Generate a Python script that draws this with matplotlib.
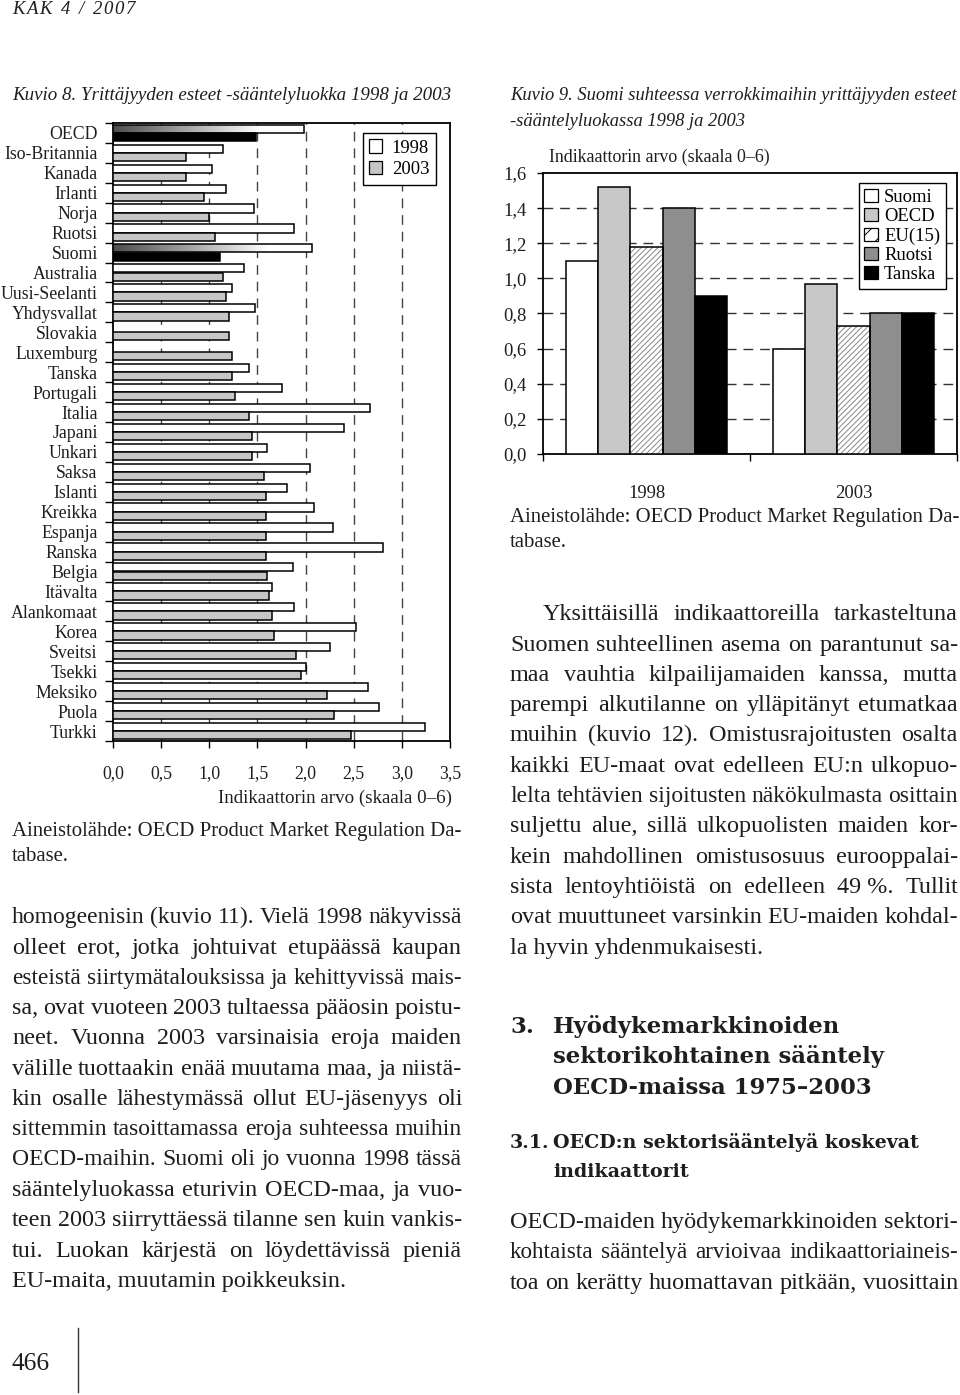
import matplotlib
matplotlib.use('Agg')
import matplotlib.pyplot as plt
import numpy as np
from matplotlib.patches import Patch

# ---------------- data ----------------
countries = ['OECD', 'Iso-Britannia', 'Kanada', 'Irlanti', 'Norja', 'Ruotsi', 'Suomi',
             'Australia', 'Uusi-Seelanti', 'Yhdysvallat', 'Slovakia', 'Luxemburg', 'Tanska',
             'Portugali', 'Italia', 'Japani', 'Unkari', 'Saksa', 'Islanti', 'Kreikka',
             'Espanja', 'Ranska', 'Belgia', 'Itävalta', 'Alankomaat', 'Korea', 'Sveitsi',
             'Tsekki', 'Meksiko', 'Puola', 'Turkki']
v1998 = [1.98, 1.14, 1.03, 1.17, 1.46, 1.875, 2.07, 1.36, 1.24, 1.47, None, None, 1.41,
         1.76, 2.67, 2.40, 1.60, 2.05, 1.81, 2.09, 2.28, 2.80, 1.87, 1.65, 1.885, 2.52,
         2.25, 2.00, 2.65, 2.76, 3.24]
v2003 = [1.48, 0.76, 0.76, 0.95, 1.00, 1.06, 1.11, 1.14, 1.17, 1.20, 1.20, 1.24, 1.24,
         1.27, 1.41, 1.44, 1.44, 1.57, 1.59, 1.59, 1.59, 1.59, 1.60, 1.62, 1.65, 1.67,
         1.90, 1.95, 2.22, 2.30, 2.47]
highlight = ['OECD', 'Suomi']
xticks_left = [0.0, 0.5, 1.0, 1.5, 2.0, 2.5, 3.0, 3.5]

years = ['1998', '2003']
series = ['Suomi', 'OECD', 'EU(15)', 'Ruotsi', 'Tanska']
suomi = [1.10, 0.60]
oecd = [1.52, 0.97]
eu15 = [1.18, 0.73]
ruotsi = [1.40, 0.80]
tanska = [0.90, 0.80]
yticks_right = [0.0, 0.2, 0.4, 0.6, 0.8, 1.0, 1.2, 1.4, 1.6]

# ---------------- page setup ----------------
W, H = 960, 1395
fig = plt.figure(figsize=(W / 100, H / 100), dpi=100)
fig.patch.set_facecolor('white')
renderer = fig.canvas.get_renderer()

SERIF = 'Liberation Serif'
HEAD = 'DejaVu Serif'
INK = '#1e1e1e'


def text_width(s, size, **kw):
    t = fig.text(0, 0, s, fontsize=size, **kw)
    w = t.get_window_extent(renderer).width
    t.remove()
    return w


def fit(s, target, **kw):
    return 10.0 * target / text_width(s, 10.0, **kw)


def put(s, x, yc, size, ha='left', **kw):
    em = size * 100 / 72
    yb = yc + 0.3 * em
    fig.text(x / W, 1 - yb / H, s, fontsize=size, va='baseline', ha=ha, **kw)


def put_line(s, x0, x1, yc, size, justify=True, **kw):
    words = s.split(' ')
    if not justify or len(words) == 1:
        put(s, x0, yc, size, **kw)
        return
    sz = size
    for _ in range(12):
        widths = [text_width(w, sz, **kw) for w in words]
        gap = (x1 - x0 - sum(widths)) / (len(words) - 1)
        if gap >= 0.22 * sz * 100 / 72:
            break
        sz *= 0.98
    x = x0
    for w, wd in zip(words, widths):
        put(w, x, yc, sz, **kw)
        x += wd + gap


def put_tracked(s, x0, x1, yc, size, **kw):
    widths = [text_width(c, size, **kw) if c != ' ' else text_width('n', size, **kw) * 0.6
              for c in s]
    extra = (x1 - x0 - sum(widths)) / (len(s) - 1)
    x = x0
    for c, wd in zip(s, widths):
        if c != ' ':
            put(c, x, yc, size, **kw)
        x += wd + extra


# header / footer
put_tracked('KAK 4 / 2007', 12, 135, 8, 13.5, family=SERIF, style='italic', color=INK)
s466 = fit('466', 38, family=SERIF)
put('466', 12, 1362, s466, family=SERIF, color=INK)
fig.add_artist(plt.Line2D([78 / W, 78 / W], [1 - 1328 / H, 1 - 1392 / H], color='#333', lw=1.0))

# titles
t8 = 'Kuvio 8. Yrittäjyyden esteet -sääntelyluokka 1998 ja 2003'
ts = fit(t8, 441, family=SERIF, style='italic')
put(t8, 12, 94, ts, family=SERIF, style='italic', color=INK)
t9a = 'Kuvio 9. Suomi suhteessa verrokkimaihin yrittäjyyden esteet'
t9s = fit(t9a, 448, family=SERIF, style='italic')
put(t9a, 510, 94, t9s, family=SERIF, style='italic', color=INK)
put('-sääntelyluokassa 1998 ja 2003', 510, 120, t9s, family=SERIF, style='italic', color=INK)

# ---------------- left chart ----------------
lab_size = fit('Iso-Britannia', 94, family=SERIF)
ax1 = fig.add_axes([113 / W, 1 - 741 / H, 337 / W, 618 / H])
n = len(countries)
h = 0.41
for i, (c, a, b) in enumerate(zip(countries, v1998, v2003)):
    hl = c in highlight
    if a is not None:
        y = i + 0.29
        if hl:
            bar = ax1.barh(y, a, height=h, facecolor='none', edgecolor='black', lw=1.1, zorder=4)[0]
            g = np.clip(0.30 + 0.9 * np.linspace(0, 1, 256), 0, 1)[None, :]
            im = ax1.imshow(g, cmap='gray', vmin=0, vmax=1, aspect='auto',
                            extent=[0, a, y + h / 2, y - h / 2], zorder=3)
            im.set_clip_path(bar)
        else:
            ax1.barh(y, a, height=h, color='white', edgecolor='black', lw=1.1, zorder=3)
    y = i + 0.705
    ax1.barh(y, b, height=h, color='black' if hl else '#c6c6c6', edgecolor='black', lw=1.1, zorder=3)

ax1.set_xlim(0, 3.5)
ax1.set_ylim(n, 0)
ax1.set_xticks(xticks_left)
ax1.set_xticklabels([f'{v:.1f}'.replace('.', ',') for v in xticks_left],
                    fontsize=lab_size, family=SERIF, color=INK)
ax1.tick_params(axis='x', direction='out', length=5, width=1, pad=12)
ax1.set_yticks(np.arange(0, n + 1))
ax1.set_yticklabels([])
ax1.set_yticks(np.arange(n) + 0.5, minor=True)
ax1.set_yticklabels(countries, minor=True, fontsize=lab_size, family=SERIF, color=INK)
ax1.tick_params(axis='y', which='major', direction='out', length=6, width=1)
ax1.tick_params(axis='y', which='minor', length=0, pad=11)
for v in xticks_left[1:-1]:
    ax1.axvline(v, color='#444', lw=1.0, dashes=(7, 5), zorder=1)
for sp in ax1.spines.values():
    sp.set_linewidth(1.3)
leg1 = ax1.legend(handles=[Patch(facecolor='white', edgecolor='black', lw=0.9, label='1998'),
                           Patch(facecolor='#c6c6c6', edgecolor='black', lw=0.9, label='2003')],
                  loc='upper right', bbox_to_anchor=(0.958, 0.984), fancybox=False,
                  prop={'family': SERIF, 'size': lab_size * 1.05}, handlelength=0.7,
                  handleheight=0.7, handletextpad=0.5, borderpad=0.35, labelspacing=0.25,
                  framealpha=1, edgecolor='black', borderaxespad=0)
leg1.get_frame().set_linewidth(1.0)
leg1.set_zorder(10)

xl = 'Indikaattorin arvo (skaala 0–6)'
xls = fit(xl, 235, family=SERIF)
put(xl, 452, 797, xls, ha='right', family=SERIF, color=INK)

src = 'Aineistolähde: OECD Product Market Regulation Da-'
srcs = fit(src, 450, family=SERIF)
put(src, 12, 830, srcs, family=SERIF, color=INK)
put('tabase.', 12, 855, srcs, family=SERIF, color=INK)

# ---------------- right chart ----------------
ax2 = fig.add_axes([543 / W, 1 - 454 / H, 414 / W, 281 / H])
bw = 0.155
centers = np.array([0.5, 1.5])
offs = np.array([-2, -1, 0, 1, 2]) * bw
ax2.bar(centers + offs[0], suomi, width=bw, color='white', edgecolor='black', lw=1.1, zorder=3)
ax2.bar(centers + offs[1], oecd, width=bw, color='#c8c8c8', edgecolor='black', lw=1.1, zorder=3)
plt.rcParams['hatch.linewidth'] = 0.7
ax2.bar(centers + offs[2], eu15, width=bw, color='white', edgecolor='#888888', hatch='//////', lw=0, zorder=3)
ax2.bar(centers + offs[2], eu15, width=bw, color='none', edgecolor='black', lw=1.1, zorder=4)
ax2.bar(centers + offs[3], ruotsi, width=bw, color='#8e8e8e', edgecolor='black', lw=1.1, zorder=3)
ax2.bar(centers + offs[4], tanska, width=bw, color='black', edgecolor='black', lw=1.1, zorder=3)
ax2.set_xlim(0, 2)
ax2.set_ylim(0, 1.6)
ax2.set_yticks(yticks_right)
ax2.set_yticklabels([f'{v:.1f}'.replace('.', ',') for v in yticks_right],
                    fontsize=lab_size * 1.05, family=SERIF, color=INK)
ax2.tick_params(axis='y', direction='out', length=4, width=1, pad=8)
ax2.set_xticks([0, 1, 2])
ax2.set_xticklabels([])
ax2.tick_params(axis='x', which='major', direction='out', length=5, width=1)
ax2.set_xticks(centers, minor=True)
ax2.set_xticklabels(years, minor=True, fontsize=lab_size * 1.05, family=SERIF, color=INK)
ax2.tick_params(axis='x', which='minor', length=0, pad=22)
for v in yticks_right[1:-1]:
    ax2.axhline(v, color='#333', lw=1.0, dashes=(7, 5), zorder=1)
for sp in ax2.spines.values():
    sp.set_linewidth(1.3)
leg2 = ax2.legend(handles=[Patch(facecolor='white', edgecolor='black', lw=0.9, label='Suomi'),
                           Patch(facecolor='#c8c8c8', edgecolor='black', lw=0.9, label='OECD'),
                           Patch(facecolor='white', edgecolor='black', lw=0.9, hatch='//', label='EU(15)'),
                           Patch(facecolor='#8e8e8e', edgecolor='black', lw=0.9, label='Ruotsi'),
                           Patch(facecolor='black', edgecolor='black', lw=0.9, label='Tanska')],
                  loc='upper right', bbox_to_anchor=(0.973, 0.964), fancybox=False,
                  prop={'family': SERIF, 'size': lab_size * 1.05}, handlelength=0.7,
                  handleheight=0.7, handletextpad=0.35, borderpad=0.3, labelspacing=0.12,
                  framealpha=1, edgecolor='black', borderaxespad=0)
leg2.get_frame().set_linewidth(1.0)
leg2.set_zorder(10)

yl = 'Indikaattorin arvo (skaala 0–6)'
yls = fit(yl, 222, family=SERIF)
put(yl, 549, 157, yls, family=SERIF, color=INK)
put(src, 510, 516, srcs, family=SERIF, color=INK)
put('tabase.', 510, 541, srcs, family=SERIF, color=INK)

# ---------------- body text ----------------
left_body = [
    "homogeenisin (kuvio 11). Vielä 1998 näkyvissä",
    "olleet erot, jotka johtuivat etupäässä kaupan",
    "esteistä siirtymätalouksissa ja kehittyvissä mais-",
    "sa, ovat vuoteen 2003 tultaessa pääosin poistu-",
    "neet. Vuonna 2003 varsinaisia eroja maiden",
    "välille tuottaakin enää muutama maa, ja niistä-",
    "kin osalle lähestymässä ollut EU-jäsenyys oli",
    "sittemmin tasoittamassa eroja suhteessa muihin",
    "OECD-maihin. Suomi oli jo vuonna 1998 tässä",
    "sääntelyluokassa eturivin OECD-maa, ja vuo-",
    "teen 2003 siirryttäessä tilanne sen kuin vankis-",
    "tui. Luokan kärjestä on löydettävissä pieniä",
    "EU-maita, muutamin poikkeuksin.",
]
right_body = [
    "Yksittäisillä indikaattoreilla tarkasteltuna",
    "Suomen suhteellinen asema on parantunut sa-",
    "maa vauhtia kilpailijamaiden kanssa, mutta",
    "parempi alkutilanne on ylläpitänyt etumatkaa",
    "muihin (kuvio 12). Omistusrajoitusten osalta",
    "kaikki EU-maat ovat edelleen EU:n ulkopuo-",
    "lelta tehtävien sijoitusten näkökulmasta osittain",
    "suljettu alue, sillä ulkopuolisten maiden kor-",
    "kein mahdollinen omistusosuus eurooppalai-",
    "sista lentoyhtiöistä on edelleen 49\u00a0%. Tullit",
    "ovat muuttuneet varsinkin EU-maiden kohdal-",
    "la hyvin yhdenmukaisesti.",
]
right_body2 = [
    "OECD-maiden hyödykemarkkinoiden sektori-",
    "kohtaista sääntelyä arvioivaa indikaattoriaineis-",
    "toa on kerätty huomattavan pitkään, vuosittain",
]
bs = 0.5 * (fit(left_body[-1], 338, family=SERIF) + fit(right_body[-1], 250, family=SERIF))
LS = 30.3
for k, line in enumerate(left_body):
    put_line(line, 12, 462, 916 + k * LS, bs, justify=k < len(left_body) - 1,
             family=SERIF, color=INK)
for k, line in enumerate(right_body):
    x0 = 543 if k == 0 else 510
    put_line(line, x0, 958, 613 + k * LS, bs, justify=k < len(right_body) - 1,
             family=SERIF, color=INK)
for k, line in enumerate(right_body2):
    put_line(line, 510, 958, 1221 + k * LS, bs, justify=True, family=SERIF, color=INK)

# headings
hs = fit('Hyödykemarkkinoiden', 289, family=HEAD, weight='bold')
put('3.', 510, 1026, hs, family=HEAD, weight='bold', color=INK)
for k, line in enumerate(['Hyödykemarkkinoiden', 'sektorikohtainen sääntely',
                          'OECD-maissa 1975–2003']):
    put(line, 553, 1026 + k * 30.5, hs, family=HEAD, weight='bold', color=INK)
ss = fit('OECD:n sektorisääntelyä koskevat', 368, family=HEAD, weight='bold')
put('3.1.', 510, 1142, ss, family=HEAD, weight='bold', color=INK)
put('OECD:n sektorisääntelyä koskevat', 553, 1142, ss, family=HEAD, weight='bold', color=INK)
put('indikaattorit', 553, 1171, ss, family=HEAD, weight='bold', color=INK)

fig.savefig('out.png', dpi=100, facecolor='white')
